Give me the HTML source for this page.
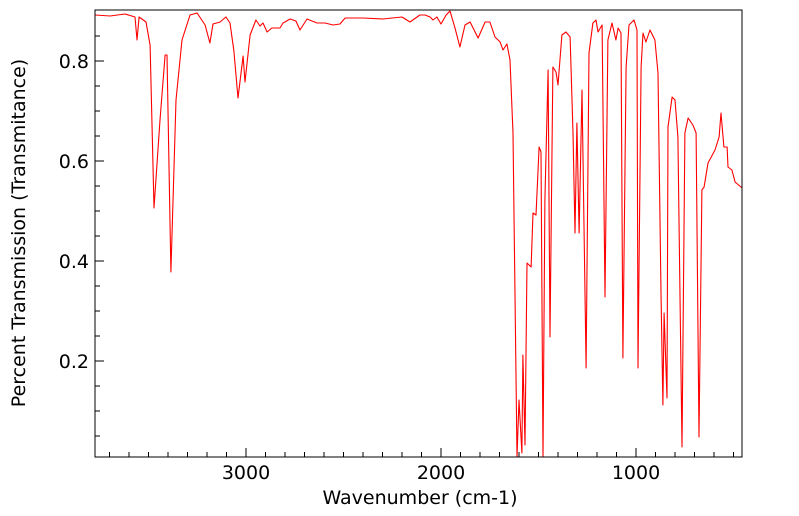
<!DOCTYPE html>
<html><head><meta charset="utf-8"><style>
html,body{margin:0;padding:0;background:#fff;}
svg{display:block;font-family:"DejaVu Sans",sans-serif;}
</style></head><body>
<svg id="chart" width="799" height="516">
<g id="axes"></g>
<path id="line" fill="none" stroke="#ff0000" stroke-width="1.1" stroke-linejoin="round"/>
<rect x="95" y="10" width="647" height="447" fill="none" stroke="#000" stroke-width="1"/>
<text x="420" y="504" text-anchor="middle" font-size="19">Wavenumber (cm-1)</text>
<text transform="translate(25,233) rotate(-90)" text-anchor="middle" font-size="19">Percent Transmission (Transmitance)</text>
</svg>
<script>
const wavenumbers=[3774,3697,3620,3569,3559,3548,3513,3492,3472,3441,3415,3405,3385,3359,3328,3287,3251,3210,3185,3169,3133,3103,3082,3062,3041,3015,3005,2979,2949,2928,2913,2892,2867,2826,2810,2774,2744,2723,2687,2636,2595,2554,2518,2492,2400,2300,2200,2159,2108,2082,2056,2041,2021,2000,1974,1954,1928,1903,1877,1851,1810,1774,1749,1723,1697,1682,1662,1646,1631,1610,1600,1585,1580,1569,1559,1538,1528,1513,1497,1487,1477,1467,1451,1441,1426,1410,1400,1380,1359,1338,1323,1313,1303,1292,1277,1256,1241,1221,1205,1195,1174,1159,1144,1123,1103,1092,1077,1067,1051,1036,1010,995,990,974,964,949,928,903,887,872,862,856,841,836,815,800,785,764,749,733,708,692,677,662,651,631,595,574,564,549,533,528,508,492,456];
const transmittance=[0.892,0.890,0.894,0.888,0.842,0.888,0.878,0.832,0.506,0.682,0.812,0.812,0.378,0.722,0.842,0.892,0.896,0.872,0.836,0.874,0.878,0.888,0.876,0.820,0.726,0.810,0.758,0.852,0.882,0.870,0.876,0.858,0.866,0.866,0.876,0.884,0.880,0.862,0.884,0.876,0.876,0.872,0.874,0.886,0.886,0.884,0.888,0.878,0.892,0.892,0.888,0.882,0.888,0.874,0.892,0.900,0.866,0.828,0.872,0.878,0.846,0.878,0.878,0.848,0.838,0.822,0.834,0.802,0.656,0.008,0.122,0.016,0.212,0.032,0.396,0.388,0.496,0.492,0.628,0.618,0.008,0.522,0.782,0.248,0.788,0.778,0.752,0.852,0.858,0.848,0.656,0.456,0.676,0.456,0.742,0.186,0.816,0.876,0.882,0.858,0.872,0.328,0.842,0.876,0.842,0.866,0.856,0.206,0.788,0.872,0.882,0.862,0.186,0.788,0.856,0.838,0.862,0.842,0.776,0.336,0.112,0.296,0.126,0.668,0.728,0.722,0.648,0.028,0.656,0.686,0.672,0.656,0.048,0.542,0.548,0.596,0.622,0.648,0.696,0.628,0.628,0.588,0.582,0.558,0.546];
const xTickValues=[3000,2000,1000];
const yTickValues=[0.2,0.4,0.6,0.8];
const xScale=w=>246+(3000-w)*0.195;
const yScale=t=>61+(0.8-t)*500;
const NS='http://www.w3.org/2000/svg';
const axes=document.getElementById('axes');
function mk(tag,attrs){const e=document.createElementNS(NS,tag);for(const k in attrs)e.setAttribute(k,attrs[k]);return e;}
for(let w=3700;w>=500;w-=100){
  const x=xScale(w);const major=w%1000===0;
  const t=mk('line',{x1:x,x2:x,y1:457,y2:457-(major?9:5),stroke:'#000'});
  
  
  axes.appendChild(t);
}
xTickValues.forEach(w=>{
  const l=mk('text',{x:xScale(w),y:479,'text-anchor':'middle','font-size':'19'});
  l.textContent=w;
  
  
  axes.appendChild(l);
});
for(let i=1;i<=17;i++){
  const v=i*0.05;const y=yScale(v);if(y<10)continue;
  const major=i%4===0;
  const t=mk('line',{x1:95,x2:95+(major?9:5),y1:y,y2:y,stroke:'#000'});
  
  
  axes.appendChild(t);
}
yTickValues.forEach(v=>{
  const l=mk('text',{x:89,y:yScale(v)+7,'text-anchor':'end','font-size':'19'});
  l.textContent=v.toFixed(1);
  
  
  axes.appendChild(l);
});
let d='';
wavenumbers.forEach((w,i)=>{d+=(i?'L':'M')+xScale(w).toFixed(1)+','+yScale(transmittance[i]).toFixed(1);});
document.getElementById('line').setAttribute('d',d);
</script>
</body></html>
